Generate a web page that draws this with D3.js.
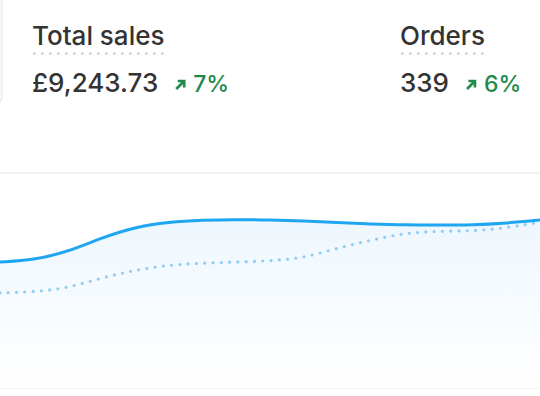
<!DOCTYPE html>
<html>
<head>
    <meta charset="utf-8">
    <title>Sales summary</title>
    <script src="https://cdnjs.cloudflare.com/ajax/libs/d3/7.8.5/d3.min.js"></script>
    <style>
        body {
            margin: 0;
            background: #fff;
            font-family: Inter, "Noto Sans", sans-serif;
        }
        #chart {
            width: 540px;
            height: 396px;
            overflow: hidden;
        }
    </style>
</head>
<body>
    <div id="chart"></div>

    <script>
        // Summary cards
        const cardTitles = ["Total sales", "Orders"];
        const cardValues = ["£9,243.73", "339"];
        const cardDeltas = ["7%", "6%"];

        // Series, one value per day (current and previous period)
        const days = d3.range(17);
        const current = [586, 595, 633, 698, 749, 772, 781, 784, 781, 777, 770, 763, 758, 758, 758, 767, 781];
        const previous = [442, 447, 465, 512, 549, 572, 581, 586, 591, 605, 651, 688, 721, 730, 730, 744, 772];
        const yTicks = [0, 500, 1000];

        const width = 540, height = 396;
        const svg = d3.select("#chart").append("svg")
            .attr("width", width)
            .attr("height", height);

        // edge of the neighbouring card
        svg.append("rect")
            .attr("x", -20).attr("y", -12)
            .attr("width", 22).attr("height", 117)
            .attr("rx", 8)
            .attr("fill", "#fafafa")
            .attr("stroke", "#e4e4e4");

        // cards
        const cardX = [32, 400];
        cardTitles.forEach((t, i) => {
            const g = svg.append("g").attr("transform", `translate(${cardX[i]},0)`);
            const title = g.append("text")
                .attr("y", 45)
                .attr("font-size", 26)
                .attr("font-weight", 500)
                .attr("fill", "#333")
                .text(t);
            const tw = title.node().getComputedTextLength();
            g.append("line")
                .attr("x1", 1).attr("x2", tw)
                .attr("y1", 53.5).attr("y2", 53.5)
                .attr("stroke", "#cccccc")
                .attr("stroke-width", 2.2)
                .attr("stroke-dasharray", "2.6 5.4");
            const val = g.append("text")
                .attr("y", 92)
                .attr("font-size", 26)
                .attr("font-weight", 500)
                .attr("fill", "#333")
                .text(cardValues[i]);
            const vw = val.node().getComputedTextLength();
            const ax = vw + 18;
            // arrow
            g.append("path")
                .attr("d", `M${ax},${89} L${ax + 8},${81} M${ax + 1.5},${81} L${ax + 8},${81} L${ax + 8},${87.5}`)
                .attr("stroke", "#1f8a4c")
                .attr("stroke-width", 2.6)
                .attr("fill", "none");
            g.append("text")
                .attr("x", ax + 17)
                .attr("y", 92)
                .attr("font-size", 23)
                .attr("font-weight", 500)
                .attr("fill", "#1f8a4c")
                .text(cardDeltas[i]);
        });

        // chart
        const x = d3.scaleLinear().domain([0, 16]).range([0, 540]);
        const y = d3.scaleLinear().domain([0, 1000]).range([388, 173]);

        svg.append("g")
            .selectAll("line")
            .data(yTicks)
            .join("line")
            .attr("x1", 0).attr("x2", width)
            .attr("y1", d => y(d)).attr("y2", d => y(d))
            .attr("stroke", "#ececec")
            .attr("stroke-width", 1.5);

        const defs = svg.append("defs");
        const grad = defs.append("linearGradient")
            .attr("id", "fill-grad")
            .attr("x1", 0).attr("y1", 0).attr("x2", 0).attr("y2", 1);
        grad.append("stop").attr("offset", "0%").attr("stop-color", "#eef7fe");
        grad.append("stop").attr("offset", "100%").attr("stop-color", "#ffffff");

        const area = d3.area()
            .x((d, i) => x(days[i]))
            .y0(y(0))
            .y1(d => y(d))
            .curve(d3.curveBasis);

        const line = d3.line()
            .x((d, i) => x(days[i]))
            .y(d => y(d))
            .curve(d3.curveBasis);

        svg.append("path")
            .datum(current)
            .attr("d", area)
            .attr("fill", "url(#fill-grad)");

        svg.append("path")
            .datum(previous)
            .attr("d", line)
            .attr("fill", "none")
            .attr("stroke", "#8fcdf3")
            .attr("stroke-width", 3.2)
            .attr("stroke-linecap", "round")
            .attr("stroke-dasharray", "0 8.3");

        svg.append("path")
            .datum(current)
            .attr("d", line)
            .attr("fill", "none")
            .attr("stroke", "#1ea7f0")
            .attr("stroke-width", 3);
    </script>
</body>
</html>
